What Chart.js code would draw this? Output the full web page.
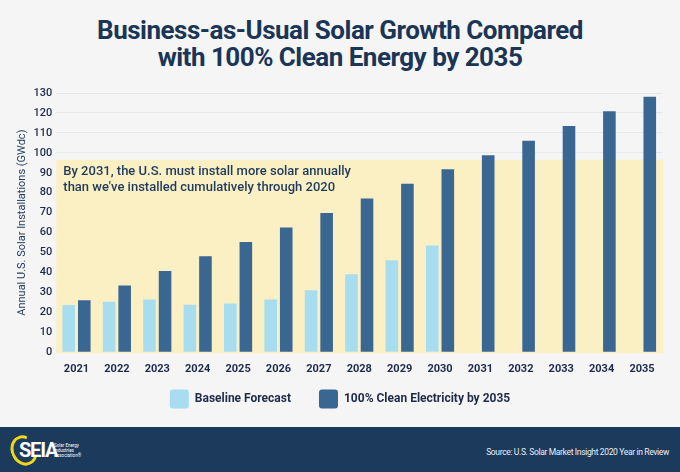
<!DOCTYPE html>
<html>
<head>
<meta charset="utf-8">
<script src="https://cdn.jsdelivr.net/npm/chart.js@4.4.1/dist/chart.umd.min.js"></script>
<style>
  html, body { margin: 0; padding: 0; }
  body { width: 680px; height: 472px; background: #f5f5f5; position: relative; overflow: hidden; font-family: Roboto, "Noto Sans", sans-serif; }
  #title { position: absolute; top: 17px; left: 0; width: 680px; text-align: center; color: #1b3556; font-weight: 700; font-size: 26px; line-height: 27px; letter-spacing: -0.5px; }
  #wrap { position: absolute; top: 80px; left: 0; width: 680px; height: 392px; }
  #footer { position: absolute; top: 427px; left: 0; width: 680px; height: 45px; background: #1b3a5c; z-index: 5; }
  .ring { position: absolute; left: 11px; top: 8px; width: 20px; height: 25px; border: 3px solid #eed81c; border-right-color: transparent; border-radius: 50%; transform: rotate(-25deg); }
  .seia { position: absolute; left: 19px; top: 11px; color: #fff; font-weight: 700; font-size: 20px; letter-spacing: -1.2px; line-height: 24px; }
  .small { position: absolute; left: 54px; top: 16px; color: #fff; font-size: 4.5px; line-height: 5px; }
  .src { position: absolute; right: 11px; top: 20px; color: #e8eef5; font-size: 8.5px; letter-spacing: -0.35px; white-space: nowrap; }
</style>
</head>
<body>
<div id="title">Business-as-Usual Solar Growth Compared<br>with 100% Clean Energy by 2035</div>
<div id="wrap"><canvas id="c"></canvas></div>
<div id="footer">
  <span class="ring"></span><span class="seia">SEIA</span>
  <span class="small">Solar Energy<br>Industries<br>Association®</span>
  <span class="src">Source: U.S. Solar Market Insight 2020 Year in Review</span>
</div>
<script>
const years = ['2021','2022','2023','2024','2025','2026','2027','2028','2029','2030','2031','2032','2033','2034','2035'];
const baselineForecast = [23.7, 25.3, 26.5, 23.8, 24.5, 26.5, 31.1, 39.1, 46.1, 53.6, null, null, null, null, null];
const cleanElectricity = [26.1, 33.5, 40.8, 48.1, 55.3, 62.6, 69.8, 77.1, 84.5, 91.8, 98.8, 106.1, 113.5, 120.8, 128.1];
const seriesNames = ['Baseline Forecast', '100% Clean Electricity by 2035'];
const bandValue = 96.5;
const bandText = ['By 2031, the U.S. must install more solar annually', "than we've installed cumulatively through 2020"];
const yTitle = 'Annual U.S. Solar Installations (GWdc)';

const bandPlugin = {
  id: 'band',
  afterLayout(chart) {
    const lg = chart.legend;
    const h = lg.bottom - lg.top;
    lg.top = chart.chartArea.bottom + 9.2;
    lg.bottom = lg.top + h;
  },
  beforeDatasetsDraw(chart) {
    const {ctx, chartArea, scales} = chart;
    const yTop = scales.y.getPixelForValue(bandValue);
    const yBot = scales.y.getPixelForValue(0);
    ctx.save();
    ctx.fillStyle = '#faf0c4';
    ctx.fillRect(chartArea.left, yTop, chartArea.right - chartArea.left + 1, yBot - yTop + 1);
    ctx.fillStyle = '#1e3a5c';
    ctx.font = '500 13px Roboto';
    ctx.textBaseline = 'middle';
    ctx.textAlign = 'left';
    bandText.forEach((t, i) => ctx.fillText(t, chartArea.left + 7, yTop + 12 + i * 16));
    ctx.restore();
  }
};

new Chart(document.getElementById('c'), {
  type: 'bar',
  data: {
    labels: years,
    datasets: [
      { label: seriesNames[0], data: baselineForecast, backgroundColor: '#a8dcef', categoryPercentage: 0.77, barPercentage: 0.81 },
      { label: seriesNames[1], data: cleanElectricity, backgroundColor: '#3a6692', categoryPercentage: 0.77, barPercentage: 0.81 }
    ]
  },
  options: {
    responsive: true,
    maintainAspectRatio: false,
    animation: false,
    layout: { padding: { top: 13, left: 0, right: 0, bottom: 32.7 } },
    plugins: {
      title: { display: false },
      tooltip: { enabled: false },
      legend: {
        position: 'bottom',
        labels: {
          boxWidth: 19, boxHeight: 19, padding: 28, useBorderRadius: true, borderRadius: 3,
          color: '#1e2a4a', font: { family: 'Roboto', size: 12, weight: '700' }
        }
      }
    },
    scales: {
      x: {
        grid: { display: false },
        border: { display: false },
        ticks: { color: '#1e2a4a', font: { family: 'Roboto', size: 11, weight: '700' }, padding: 2, maxRotation: 0 },
        afterFit(s) { s.height = 30; }
      },
      y: {
        min: 0, max: 130,
        grid: { color: '#e8e8e8', drawTicks: false },
        border: { display: false },
        ticks: { stepSize: 10, color: '#1e2a4a', font: { family: 'Roboto', size: 11, weight: '500' }, padding: 4 },
        title: { display: true, text: yTitle, color: '#1e3a5c', font: { family: 'Roboto', size: 11 }, padding: { top: 16, bottom: 0 } },
        afterFit(s) { s.width = 56.3; }
      },
      yR: {
        position: 'right',
        grid: { display: false },
        border: { display: false },
        ticks: { display: false },
        afterFit(s) { s.width = 17.8; }
      }
    }
  },
  plugins: [bandPlugin]
});
</script>
</body>
</html>
